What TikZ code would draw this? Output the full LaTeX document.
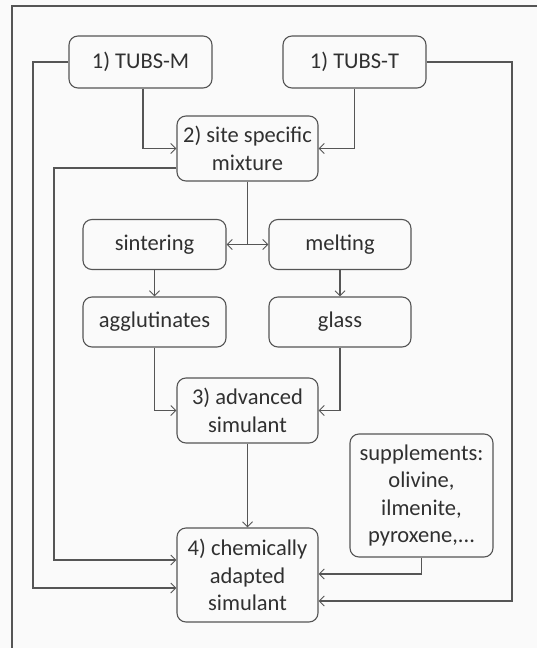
\documentclass[tikz,border=0pt]{standalone}
\usepackage{fontspec}
\setmainfont{Carlito}
\usetikzlibrary{arrows.meta,calc}
\definecolor{linegray}{HTML}{555555}
\definecolor{textgray}{HTML}{303030}
\definecolor{paper}{HTML}{FAFAFA}
\tikzset{
  stepbox/.style={draw=linegray, line width=1.1pt, rounded corners=9pt,
    text=textgray, align=center, inner sep=0pt,
    font=\fontsize{22.5}{27.5}\selectfont},
  arr/.style={draw=linegray, line width=1.1pt,
    -{Straight Barb[length=5pt,width=10pt,line width=1pt]}},
  link/.style={draw=linegray, line width=1.1pt},
}
\begin{document}
\begin{tikzpicture}[x=1pt,y=-1pt]
  % page and cropped outer frame
  \fill[paper] (0,0) rectangle (537,648);
  \useasboundingbox (0,0) rectangle (537,648);
  \draw[linegray, line width=1.4pt] (12,648) -- (12,6) -- (537,6);

  % boxes
  \node[stepbox, minimum width=143pt, minimum height=52pt] (m) at (140.5,62) {1) TUBS-M};
  \node[stepbox, minimum width=143pt, minimum height=52pt] (t) at (354.5,62) {1) TUBS-T};
  \node[stepbox, minimum width=141pt, minimum height=65pt] (s2) at (247.5,148.5) {2) site specific\\mixture};
  \node[stepbox, minimum width=143pt, minimum height=50pt] (sint) at (154.5,244.5) {sintering};
  \node[stepbox, minimum width=142pt, minimum height=50pt] (melt) at (340,244.5) {melting};
  \node[stepbox, minimum width=143pt, minimum height=50pt] (aggl) at (154.5,322) {agglutinates};
  \node[stepbox, minimum width=142pt, minimum height=50pt] (glass) at (340,322) {glass};
  \node[stepbox, minimum width=141pt, minimum height=65pt] (s3) at (247.5,410.5) {3) advanced\\simulant};
  \node[stepbox, minimum width=141pt, minimum height=94pt] (s4) at (247.5,575) {4) chemically\\adapted\\simulant};
  \node[stepbox, minimum width=143pt, minimum height=123pt] (sup) at (421.5,495.5) {supplements:\\olivine,\\ilmenite,\\pyroxene,...};

  % columns of the bypass lines
  \coordinate (xL) at (33,0);
  \coordinate (xL2) at (54,0);
  \coordinate (xR) at (512,0);

  % connectors
  \draw[arr] (m.west) -- (m.west -| xL) |- ([yshift=-13pt]s4.west);
  \draw[arr] (t.east) -- (t.east -| xR) |- ([yshift=-26pt]s4.east);
  \draw[arr] ([xshift=2.5pt]m.south) |- (s2.west);
  \draw[arr] (t.south) |- (s2.east);
  \draw[arr] ([yshift=-19.5pt]s2.west) -- ([yshift=-19.5pt]s2.west -| xL2) |- ([yshift=15pt]s4.west);
  \draw[link] (s2.south) -- (s2.south |- sint.east);
  \draw[arr] (s2.south |- sint.east) -- (sint.east);
  \draw[arr] (s2.south |- sint.east) -- (melt.west);
  \draw[arr] (sint) -- (aggl);
  \draw[arr] (melt) -- (glass);
  \draw[arr] (aggl.south) |- (s3.west);
  \draw[arr] (glass.south) |- (s3.east);
  \draw[arr] (s3) -- (s4);
  \draw[arr] (sup.south) |- ([yshift=1pt]s4.east);
\end{tikzpicture}
\end{document}
